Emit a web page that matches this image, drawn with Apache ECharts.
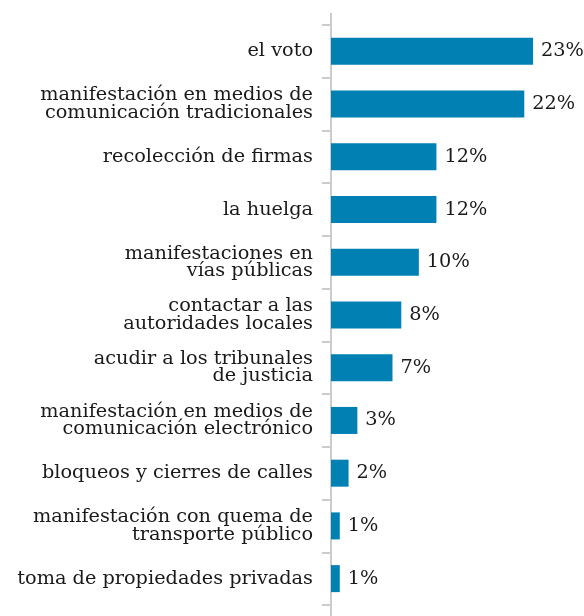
<!DOCTYPE html>
<html><head><meta charset="utf-8">
<script src="https://cdn.jsdelivr.net/npm/echarts@6/dist/echarts.min.js"></script>
<style>html,body{margin:0;padding:0;background:#fff}#c{width:584px;height:616px}</style>
</head><body><div id="c"></div>
<script>
var categories = [
  "el voto",
  "manifestación en medios de\ncomunicación tradicionales",
  "recolección de firmas",
  "la huelga",
  "manifestaciones en\nvías públicas",
  "contactar a las\nautoridades locales",
  "acudir a los tribunales\nde justicia",
  "manifestación en medios de\ncomunicación electrónico",
  "bloqueos y cierres de calles",
  "manifestación con quema de\ntransporte público",
  "toma de propiedades privadas"
];
var values = [23, 22, 12, 12, 10, 8, 7, 3, 2, 1, 1];

var FONT = "DejaVu Serif";
var gridTop = 25, gridBottom = 11, gridLeft = 331, gridRight = 7;
var chart = echarts.init(document.getElementById('c'), null, {renderer: 'canvas'});
chart.setOption({
  animation: false,
  grid: {left: gridLeft, right: gridRight, top: gridTop, bottom: gridBottom, containLabel: false},
  xAxis: {type: 'value', min: 0, max: 28, show: false},
  yAxis: {
    type: 'category', data: categories, inverse: true,
    axisLine: {show: true, lineStyle: {color: '#cccccc', width: 2}},
    axisTick: {show: true, length: 9, lineStyle: {color: '#cccccc', width: 2}},
    axisLabel: {margin: 18, color: '#1a1a1a', fontFamily: FONT, fontSize: 19.3, lineHeight: 17.5, align: 'right'},
    splitLine: {show: false}
  },
  series: [{
    type: 'bar', data: values, barWidth: 27,
    itemStyle: {color: '#0180b3'},
    label: {show: true, position: 'right', distance: 8, formatter: '{c}%', color: '#1a1a1a', fontFamily: FONT, fontSize: 19.3}
  }],
  graphic: [{
    type: 'line', silent: true,
    shape: {x1: gridLeft, y1: 13, x2: gridLeft, y2: 616},
    style: {stroke: '#cccccc', lineWidth: 2}
  }]
});
</script></body></html>
